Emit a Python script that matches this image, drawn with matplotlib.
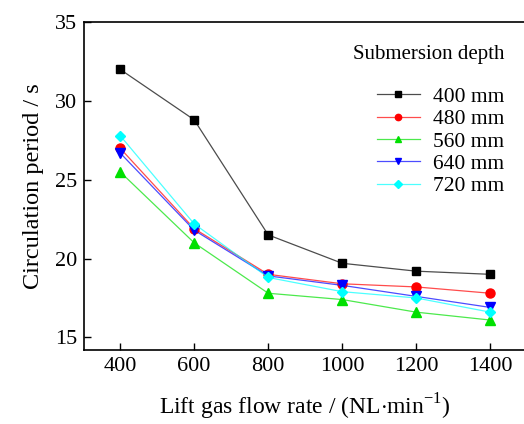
import matplotlib.pyplot as plt
from matplotlib.colors import to_rgba

plt.rcParams["font.family"] = ["Liberation Serif", "DejaVu Serif"]
plt.rcParams["mathtext.fontset"] = "custom"
plt.rcParams["mathtext.rm"] = "Liberation Serif"

flow_rate = [400, 600, 800, 1000, 1200, 1400]
depth_labels = ["400 mm", "480 mm", "560 mm", "640 mm", "720 mm"]
period_400 = [32.0, 28.8, 21.5, 19.7, 19.2, 19.0]
period_480 = [27.0, 21.9, 19.0, 18.4, 18.2, 17.8]
period_560 = [25.5, 21.0, 17.8, 17.4, 16.6, 16.1]
period_640 = [26.7, 21.8, 18.9, 18.3, 17.6, 16.9]
period_720 = [27.8, 22.2, 18.8, 17.9, 17.5, 16.6]

series = [period_400, period_480, period_560, period_640, period_720]
colors = ["black", "red", "#00e000", "blue", "cyan"]
markers = ["s", "o", "^", "v", "D"]
sizes = [6, 6.5, 7, 7, 5.5]

fig = plt.figure(figsize=(5.24, 4.24), dpi=100)
ax = fig.add_axes([0.160, 0.1745, 0.845, 0.7735])

for vals, lab, c, m, ms in zip(series, depth_labels, colors, markers, sizes):
    ax.plot(flow_rate, vals, color=to_rgba(c, 0.7), lw=0.9, marker=m,
            markersize=ms, markerfacecolor=c, markeredgecolor=c, label=lab)

ax.set_xlim(302, 1498)
ax.set_ylim(14.2, 35)
ax.set_xticks(flow_rate)
ax.set_yticks([15, 20, 25, 30, 35])
ax.tick_params(direction="in", labelsize=16, length=5, width=1, pad=5)
ax.spines["right"].set_visible(False)
for s in ["left", "bottom", "top"]:
    ax.spines[s].set_linewidth(1.2)

ax.set_xlabel(r"Lift gas flow rate / (NL$\cdot$min$^{-1}$)", fontsize=17, labelpad=11)
ax.set_ylabel("Circulation period / s", fontsize=17.5, labelpad=8)

leg = ax.legend(title="Submersion depth", loc="upper right",
                bbox_to_anchor=(0.969, 0.955), frameon=False, fontsize=15.5,
                title_fontsize=15, handlelength=2.0, handletextpad=0.6,
                labelspacing=0.11, markerscale=0.7, borderaxespad=0)
leg._legend_box.align = "right"
leg._legend_box.sep = 16

fig.savefig("out.png", dpi=100)
